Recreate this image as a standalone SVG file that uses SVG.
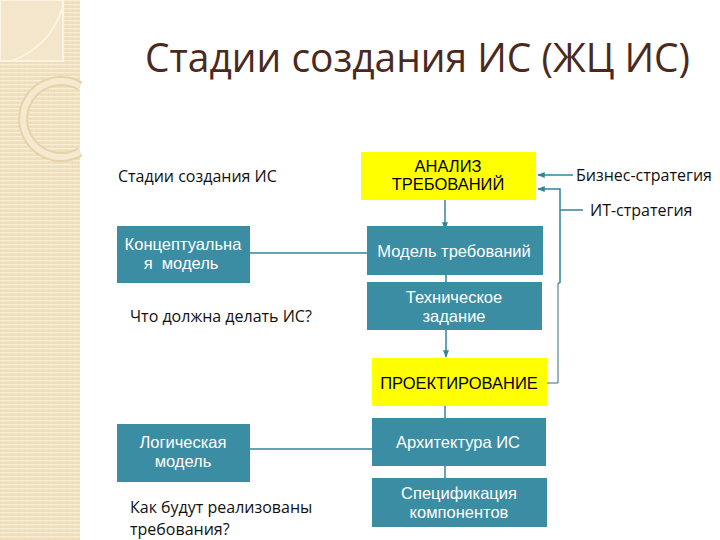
<svg xmlns="http://www.w3.org/2000/svg" width="720" height="540" viewBox="0 0 720 540">
<defs>
<pattern id="stripes" width="6" height="4" patternUnits="userSpaceOnUse">
<rect width="6" height="4" fill="#F0DFBC"/>
<rect y="0" width="6" height="1.3" fill="#F8EDD6"/>
<rect x="0" y="2" width="1" height="1" fill="#E8D4AC"/>
</pattern>
<marker id="arr" viewBox="0 0 10 10" refX="9" refY="5" markerWidth="5" markerHeight="5" orient="auto-start-reverse">
<path d="M0,1 L10,5 L0,9 z" fill="#31849B"/>
</marker>
<marker id="arrd" viewBox="0 0 10 10" refX="9" refY="5" markerWidth="5" markerHeight="5" orient="auto-start-reverse">
<path d="M0,1 L10,5 L0,9 z" fill="#2F6F80"/>
</marker>
</defs>
<style>
.teal{fill:#3A8DA3}
.yel{fill:#FFFF00}
.bt{font-family:"Liberation Sans",Arial,sans-serif;font-size:16.5px;text-anchor:middle}
.w{fill:#FFFFFF}
.k{fill:#000000}
.cal{font-family:"Open Sans","Noto Sans",sans-serif;font-size:16px;fill:#111111}
.ln{stroke:#31849B;stroke-width:1.5;fill:none}
.thin{stroke:#2F6F80;stroke-width:1;fill:none}
</style>
<rect width="720" height="540" fill="#FFFFFF"/>
<g id="decor">
<rect x="0" y="0" width="80" height="540" fill="url(#stripes)"/>
<rect x="0" y="0" width="63" height="61" fill="#F3E6CA" stroke="#FBF4E4" stroke-width="2"/>
<path d="M63,6 C56,30 40,50 12,61" stroke="#FBF4E4" stroke-width="2" fill="none"/>
<path d="M80,86 A38,38 0 1 0 80,152" stroke="#E6D3A9" stroke-width="10" fill="none"/>
<path d="M80,86 A38,38 0 1 0 80,152" stroke="#F5EAD0" stroke-width="6" fill="none"/>
</g>
<g id="title">
<text x="145" y="72" font-family="Open Sans, Noto Sans, sans-serif" font-size="40" fill="#4A2A1E" textLength="545" lengthAdjust="spacingAndGlyphs">Стадии создания ИС (ЖЦ ИС)</text>
</g>
<g id="connectors">
<line class="ln" x1="445" y1="200" x2="445" y2="229" marker-end="url(#arr)"/>
<line class="ln" x1="446" y1="275" x2="446" y2="282"/>
<line class="ln" x1="446" y1="330" x2="446" y2="357" marker-end="url(#arr)"/>
<line class="ln" x1="445" y1="406" x2="445" y2="418"/>
<line class="ln" x1="445" y1="466" x2="445" y2="478"/>
<line class="ln" x1="250" y1="253" x2="367" y2="253"/>
<line class="ln" x1="250" y1="449" x2="372" y2="449"/>
<line class="ln" x1="573" y1="175" x2="538" y2="175" marker-end="url(#arr)"/>
<path class="ln" d="M583,210 L560,210"/>
<path class="ln" d="M560,283 L560,189 L538,189" marker-end="url(#arr)"/>
<path class="thin" d="M560,283 L558,283 L558,383 L537,383" marker-end="url(#arrd)"/>
</g>
<g id="stages-label">
<text class="cal" x="118" y="182">Стадии создания ИС</text>
</g>
<g id="analiz">
<rect class="yel" x="361" y="152" width="175" height="48"/>
<text class="bt k" x="448" y="172">АНАЛИЗ</text>
<text class="bt k" x="448" y="190">ТРЕБОВАНИЙ</text>
</g>
<g id="business">
<text class="cal" x="576" y="181">Бизнес-стратегия</text>
</g>
<g id="it">
<text class="cal" x="590" y="216">ИТ-стратегия</text>
</g>
<g id="model-treb">
<rect class="teal" x="367" y="226" width="176" height="49"/>
<text class="bt w" x="454" y="257">Модель требований</text>
</g>
<g id="konc">
<rect class="teal" x="117" y="226" width="133" height="57"/>
<text class="bt w" x="183" y="250">Концептуальна</text>
<text class="bt w" x="181" y="269" style="white-space:pre">я  модель</text>
</g>
<g id="chto">
<text class="cal" x="130" y="322">Что должна делать ИС?</text>
</g>
<g id="tz">
<rect class="teal" x="367" y="282" width="175" height="48"/>
<text class="bt w" x="454" y="303">Техническое</text>
<text class="bt w" x="454" y="322">задание</text>
</g>
<g id="proekt">
<rect class="yel" x="372" y="358" width="175" height="48"/>
<text class="bt k" x="459" y="389">ПРОЕКТИРОВАНИЕ</text>
</g>
<g id="arch">
<rect class="teal" x="372" y="418" width="174" height="48"/>
<text class="bt w" x="458" y="448">Архитектура ИС</text>
</g>
<g id="log">
<rect class="teal" x="117" y="424" width="133" height="58"/>
<text class="bt w" x="183" y="448">Логическая</text>
<text class="bt w" x="183" y="467">модель</text>
</g>
<g id="spec">
<rect class="teal" x="372" y="478" width="175" height="49"/>
<text class="bt w" x="459" y="499">Спецификация</text>
<text class="bt w" x="459" y="518">компонентов</text>
</g>
<g id="kak">
<text class="cal" x="130" y="513">Как будут реализованы</text>
<text class="cal" x="130" y="535">требования?</text>
</g>
</svg>
